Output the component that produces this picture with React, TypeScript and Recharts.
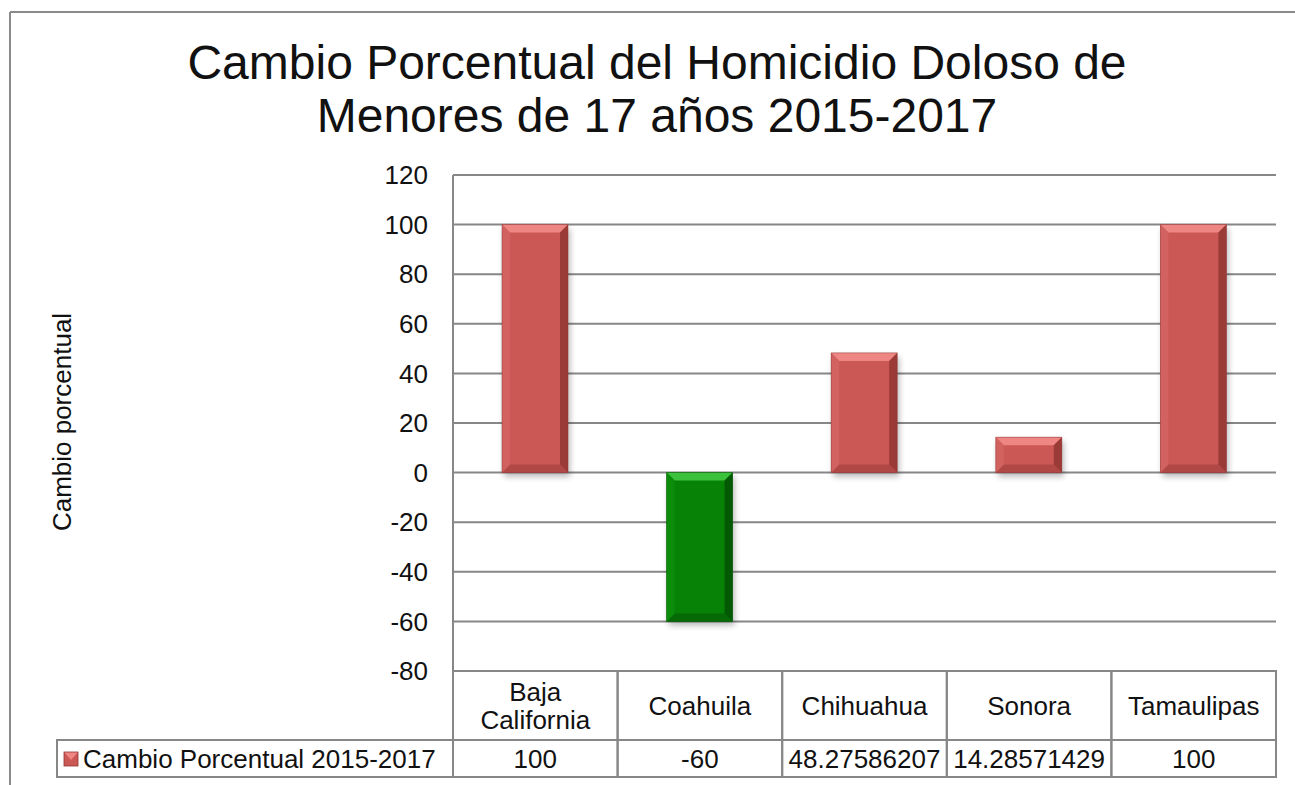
import React from 'react';
import { BarChart, Bar, XAxis, YAxis, CartesianGrid } from 'recharts';

const categories: string[][] = [['Baja', 'California'], ['Coahuila'], ['Chihuahua'], ['Sonora'], ['Tamaulipas']];
const values: number[] = [100, -60, 48.27586207, 14.28571429, 100];
const valueLabels: string[] = ['100', '-60', '48.27586207', '14.28571429', '100'];
const yTicks: number[] = [-80, -60, -40, -20, 0, 20, 40, 60, 80, 100, 120];
const seriesName = 'Cambio Porcentual 2015-2017';
const titleLines: string[] = ['Cambio Porcentual del Homicidio Doloso de', 'Menores de 17 años 2015-2017'];
const yLabel = 'Cambio porcentual';

const data = categories.map((c, i) => ({ key: c.join(' '), lines: c, value: values[i], label: valueLabels[i] }));

const W = 1295;
const H = 785;
const PLOT_LEFT = 453;
const PLOT_RIGHT = 1276;
const PLOT_TOP = 175;
const PLOT_BOTTOM = 671;
const ROW1 = 69;
const ROW2 = 37;
const LEGEND_LEFT = 57;
const YAXIS_W = 80;
const BAND = (PLOT_RIGHT - PLOT_LEFT) / categories.length;
const FONT = '"Liberation Sans", Arial, Helvetica, sans-serif';
const GRID = '#878787';
const FS = 26;

const RED = { base: '#CB5855', top: '#EE8683', bottom: '#B04845', left: '#D2625F', right: '#933633' };
const GREEN = { base: '#078207', top: '#3CC13C', bottom: '#056A05', left: '#0B8D0B', right: '#045204' };

const BevelBar = (props: any) => {
  const { x, y, width, height, index, value } = props;
  const top = Math.min(y, y + height);
  const h = Math.abs(height);
  const w = width;
  const v = Array.isArray(value) ? value[1] - value[0] : value;
  const c = (v ?? values[index]) < 0 ? GREEN : RED;
  const b = Math.min(8, h / 2, w / 2);
  const fid = `shadow${index}`;
  return (
    <g>
      <defs>
        <filter id={fid} x="-30%" y="-30%" width="160%" height="160%">
          <feGaussianBlur stdDeviation="3" />
        </filter>
      </defs>
      <rect x={x + 2} y={top + 4} width={w} height={h} fill="#000" opacity={0.28} filter={`url(#${fid})`} />
      <rect x={x} y={top} width={w} height={h} fill={c.base} />
      <polygon points={`${x},${top} ${x + w},${top} ${x + w - b},${top + b} ${x + b},${top + b}`} fill={c.top} />
      <polygon points={`${x},${top + h} ${x + w},${top + h} ${x + w - b},${top + h - b} ${x + b},${top + h - b}`} fill={c.bottom} />
      <polygon points={`${x},${top} ${x + b},${top + b} ${x + b},${top + h - b} ${x},${top + h}`} fill={c.left} />
      <polygon points={`${x + w},${top} ${x + w - b},${top + b} ${x + w - b},${top + h - b} ${x + w},${top + h}`} fill={c.right} opacity={0.85} />
      <rect x={x} y={top} width={w} height={h} fill="none" stroke={c.right} strokeWidth={0.8} opacity={0.6} />
    </g>
  );
};

const TableTick = (props: any) => {
  const { x, y, payload, index } = props;
  const d = data[index] ?? data.find((e) => e.key === payload.value);
  const left = x - BAND / 2;
  const lines = d ? d.lines : [String(payload.value)];
  const lh = 28;
  const startY = y + ROW1 / 2 - ((lines.length - 1) * lh) / 2;
  return (
    <g>
      <rect x={left} y={y} width={BAND} height={ROW1} fill="none" stroke={GRID} strokeWidth={2} />
      <rect x={left} y={y + ROW1} width={BAND} height={ROW2} fill="none" stroke={GRID} strokeWidth={2} />
      {lines.map((ln, i) => (
        <text key={i} x={x} y={startY + i * lh} textAnchor="middle" dominantBaseline="central" fontSize={FS} fontFamily={FONT} fill="#111">
          {ln}
        </text>
      ))}
      <text x={x} y={y + ROW1 + ROW2 / 2} textAnchor="middle" dominantBaseline="central" fontSize={FS} fontFamily={FONT} fill="#111">
        {d ? d.label : ''}
      </text>
      {index === 0 && (
        <g>
          <rect x={LEGEND_LEFT} y={y + ROW1} width={left - LEGEND_LEFT} height={ROW2} fill="none" stroke={GRID} strokeWidth={2} />
          <rect x={64} y={y + ROW1 + 12} width={14} height={14} fill={RED.base} />
          <polygon points={`64,${y + ROW1 + 12} 78,${y + ROW1 + 12} 71,${y + ROW1 + 20}`} fill={RED.top} />
          <rect x={64} y={y + ROW1 + 12} width={14} height={14} fill="none" stroke={RED.right} strokeWidth={0.8} />
          <text x={83} y={y + ROW1 + ROW2 / 2} dominantBaseline="central" fontSize={FS} fontFamily={FONT} fill="#111">
            {seriesName}
          </text>
        </g>
      )}
    </g>
  );
};

export default function App() {
  return (
    <div style={{ position: 'absolute', left: 0, top: 0, width: W, height: H, background: '#fff', overflow: 'hidden' }}>
      <BarChart
        width={W}
        height={H}
        data={data}
        margin={{ top: PLOT_TOP, right: W - PLOT_RIGHT, bottom: H - PLOT_BOTTOM - ROW1 - ROW2, left: PLOT_LEFT - YAXIS_W }}
        barCategoryGap="30%"
      >
        <CartesianGrid horizontal vertical={false} stroke={GRID} strokeWidth={2} />
        <XAxis
          dataKey="key"
          height={ROW1 + ROW2}
          interval={0}
          axisLine={false}
          tickLine={false}
          tickSize={0}
          tickMargin={0}
          tick={<TableTick />}
        />
        <YAxis
          width={YAXIS_W}
          domain={[-80, 120]}
          ticks={yTicks}
          interval={0}
          axisLine={{ stroke: GRID, strokeWidth: 2 }}
          tickLine={false}
          tickSize={0}
          tickMargin={25}
          tick={{ fontSize: FS, fontFamily: FONT, fill: '#111' }}
        />
        <Bar dataKey="value" isAnimationActive={false} shape={<BevelBar />} barSize={66} />
      </BarChart>
      <svg width={W} height={H} style={{ position: 'absolute', left: 0, top: 0, pointerEvents: 'none' }}>
        <line x1={10} y1={12} x2={W} y2={12} stroke="#8a8a8a" strokeWidth={2} />
        <line x1={10} y1={12} x2={10} y2={H} stroke="#8a8a8a" strokeWidth={2} />
        {titleLines.map((t, i) => (
          <text key={i} x={657} y={62 + i * 53} textAnchor="middle" dominantBaseline="central" fontSize={48} fontFamily={FONT} fill="#111">
            {t}
          </text>
        ))}
        <text x={62} y={422} transform="rotate(-90 62 422)" textAnchor="middle" dominantBaseline="central" fontSize={FS} fontFamily={FONT} fill="#111">
          {yLabel}
        </text>
      </svg>
    </div>
  );
}
